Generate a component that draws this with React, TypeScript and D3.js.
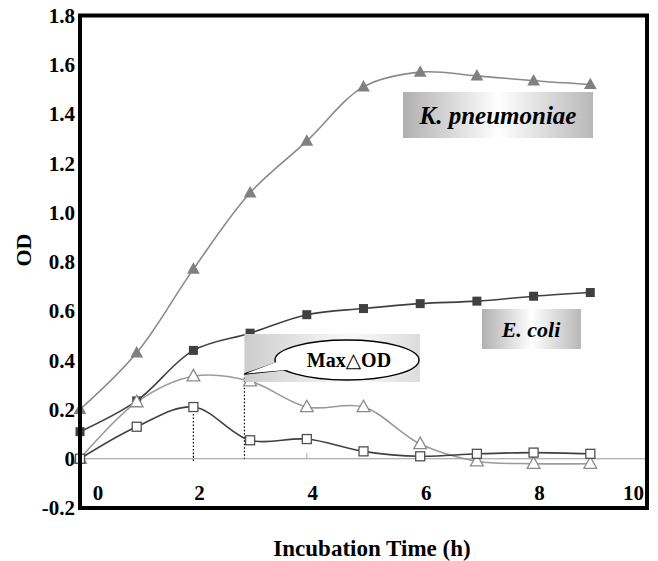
import React from "react";
import * as d3 from "d3";

const hours = [0, 1, 2, 3, 4, 5, 6, 7, 8, 9];
const kpOD = [0.2, 0.43, 0.77, 1.08, 1.29, 1.51, 1.57, 1.555, 1.535, 1.52];
const ecOD = [0.11, 0.235, 0.44, 0.51, 0.585, 0.61, 0.63, 0.64, 0.66, 0.675];
const kpDelta = [0.0, 0.23, 0.335, 0.315, 0.21, 0.21, 0.06, -0.01, -0.02, -0.02];
const ecDelta = [0.0, 0.13, 0.21, 0.075, 0.08, 0.03, 0.01, 0.02, 0.025, 0.02];
const yTicks = [-0.2, 0, 0.2, 0.4, 0.6, 0.8, 1.0, 1.2, 1.4, 1.6, 1.8];
const xTicks = [0, 2, 4, 6, 8, 10];
const minorTicks = [2, 4, 6, 8];
const dropLines = [
  { t: 2, top: 0.21 },
  { t: 2.9, top: 0.345 },
];

const W = 658;
const H = 561;
const FONT = '"Liberation Serif", "DejaVu Serif", serif';

export default function App() {
  const x = d3.scaleLinear().domain([0, 10]).range([80, 647]);
  const y = d3.scaleLinear().domain([-0.2, 1.8]).range([508, 15.5]);

  const line = d3
    .line<number>()
    .x((_, i) => x(hours[i]))
    .y((d) => y(d))
    .curve(d3.curveCatmullRom.alpha(0.5));

  const tri = (cx: number, cy: number, s: number) =>
    `M${cx},${cy - s * 0.62} L${cx + s * 0.58},${cy + s * 0.42} L${cx - s * 0.58},${cy + s * 0.42} Z`;

  const yLabel = (v: number) => (v === 0 ? "0" : v.toFixed(1));

  const xLabelPos = (t: number) => {
    if (t === 0) return { px: x(t) + 18, anchor: "middle" as const };
    if (t === 10) return { px: x(t) - 3, anchor: "end" as const };
    return { px: x(t) + 6, anchor: "middle" as const };
  };

  const cx0 = x(2.9);
  const ellCx = 347;
  const ellCy = 360;
  const rx = 72;
  const ry = 20;

  const txt = { fontFamily: FONT, fontWeight: 700 as const };

  return (
    <svg
      width={W}
      height={H}
      style={{ position: "absolute", left: 0, top: 0, background: "#fff", fontFamily: FONT }}
    >
      <defs>
        <linearGradient id="lblGrad" x1="0" x2="1" y1="0" y2="0">
          <stop offset="0%" stopColor="#b0b0b0" />
          <stop offset="50%" stopColor="#ffffff" />
          <stop offset="100%" stopColor="#b8b8b8" />
        </linearGradient>
        <linearGradient id="callGrad" x1="0" x2="1" y1="0" y2="0">
          <stop offset="0%" stopColor="#cccccc" />
          <stop offset="60%" stopColor="#fafafa" />
          <stop offset="100%" stopColor="#dcdcdc" />
        </linearGradient>
      </defs>

      <line x1={x(0)} x2={x(10)} y1={y(0)} y2={y(0)} stroke="#999" strokeWidth={1} />
      {minorTicks.map((t) => (
        <line key={t} x1={x(t)} x2={x(t)} y1={y(0)} y2={y(0) - 6} stroke="#aaa" strokeWidth={1} />
      ))}

      {dropLines.map((d, i) => (
        <line
          key={i}
          x1={x(d.t)}
          x2={x(d.t)}
          y1={y(d.top)}
          y2={i === 0 ? y(0) + 4 : y(0)}
          stroke="#000"
          strokeWidth={1.2}
          strokeDasharray="1.5,2"
        />
      ))}

      <path d={line(kpOD) || ""} fill="none" stroke="#8a8a8a" strokeWidth={1.6} />
      <path d={line(ecOD) || ""} fill="none" stroke="#404040" strokeWidth={1.6} />
      <path d={line(kpDelta) || ""} fill="none" stroke="#9a9a9a" strokeWidth={1.6} />
      <path d={line(ecDelta) || ""} fill="none" stroke="#404040" strokeWidth={1.6} />

      {kpOD.map((v, i) => (
        <path key={"kp" + i} d={tri(x(hours[i]), y(v), 11)} fill="#808080" />
      ))}
      {ecOD.map((v, i) => (
        <rect key={"ec" + i} x={x(hours[i]) - 4.5} y={y(v) - 4.5} width={9} height={9} fill="#404040" />
      ))}
      {kpDelta.map((v, i) => (
        <path key={"kd" + i} d={tri(x(hours[i]), y(v), 11)} fill="#fff" stroke="#8a8a8a" strokeWidth={1.3} />
      ))}
      {ecDelta.map((v, i) => (
        <rect
          key={"ed" + i}
          x={x(hours[i]) - 4.5}
          y={y(v) - 4.5}
          width={9}
          height={9}
          fill="#fff"
          stroke="#505050"
          strokeWidth={1.3}
        />
      ))}

      <rect x={cx0} y={334} width={420 - cx0} height={48} fill="url(#callGrad)" />
      <path
        d={`M${ellCx - rx + 4},${ellCy + 2} L${cx0},${374} L${ellCx - rx + 16},${ellCy + 9}`}
        fill="#fff"
        stroke="#000"
        strokeWidth={1.4}
      />
      <ellipse cx={ellCx} cy={ellCy} rx={rx} ry={ry} fill="#fff" stroke="#000" strokeWidth={1.4} />
      <path
        d={`M${ellCx - rx + 3},${ellCy + 1.5} L${cx0 + 2},${373.5} L${ellCx - rx + 17},${ellCy + 9.5}`}
        fill="#fff"
        stroke="none"
      />
      <text x={ellCx + 2} y={ellCy + 7} textAnchor="middle" fontSize={20} style={txt}>
        Max△OD
      </text>

      <rect x={403} y={92} width={190} height={46} fill="url(#lblGrad)" />
      <text x={498} y={124} textAnchor="middle" fontSize={25} fontStyle="italic" style={txt}>
        K. pneumoniae
      </text>
      <rect x={482} y={309} width={99} height={40} fill="url(#lblGrad)" />
      <text x={531} y={337} textAnchor="middle" fontSize={22} fontStyle="italic" style={txt}>
        E. coli
      </text>

      <rect x={x(0)} y={y(1.8)} width={x(10) - x(0)} height={y(-0.2) - y(1.8)} fill="none" stroke="#000" strokeWidth={4} />

      {yTicks.map((v) => (
        <text key={v} x={75} y={y(v)} dy="0.35em" textAnchor="end" fontSize={21} style={txt}>
          {yLabel(v)}
        </text>
      ))}

      {xTicks.map((t) => {
        const p = xLabelPos(t);
        return (
          <text key={t} x={p.px} y={500} textAnchor={p.anchor} fontSize={21} style={txt}>
            {t}
          </text>
        );
      })}

      <text transform={`translate(31,250) rotate(-90)`} textAnchor="middle" fontSize={22} style={txt}>
        OD
      </text>
      <text x={372} y={556} textAnchor="middle" fontSize={23} style={txt}>
        Incubation Time (h)
      </text>
    </svg>
  );
}
